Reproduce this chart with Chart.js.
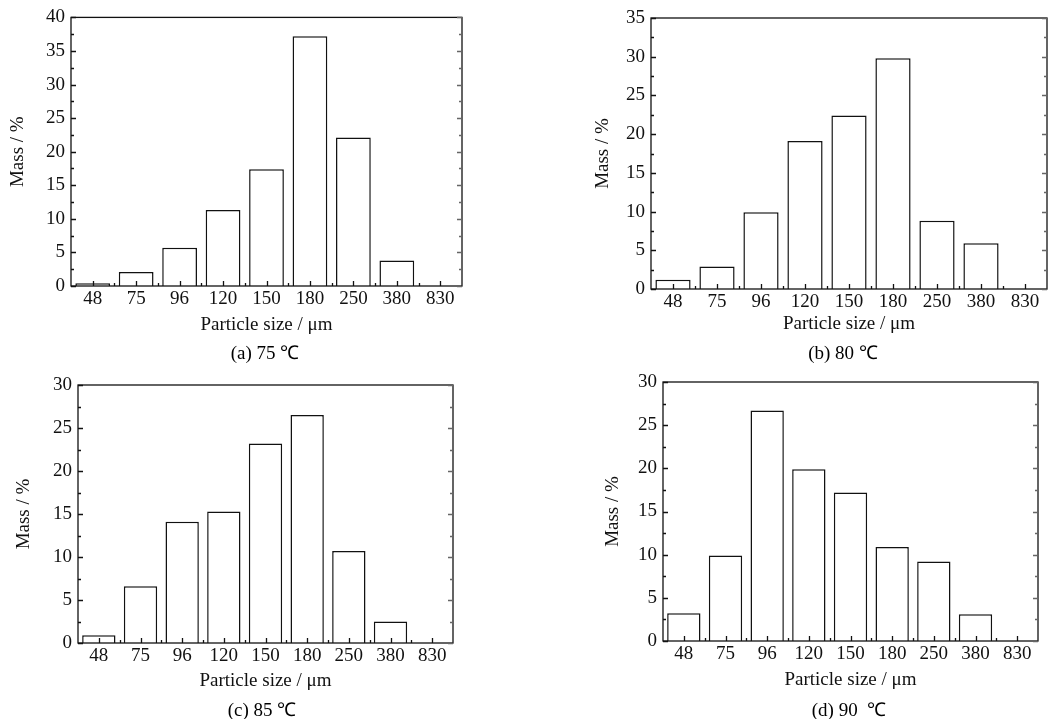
<!DOCTYPE html>
<html>
<head>
<meta charset="utf-8">
<script src="https://cdn.jsdelivr.net/npm/chart.js@4.4.1/dist/chart.umd.min.js"></script>
<style>
  body { margin: 0; background: #fff; }
  #page { position: relative; width: 1064px; height: 719px; overflow: hidden; }
  .panel { position: absolute; left: 0; top: 0; width: 1064px; height: 719px; }
  .caption { position: absolute; font-family: "Liberation Serif", "Times New Roman", serif; font-size: 19px; color: #000; transform: translate(-50%, -50%); white-space: pre; }
</style>
</head>
<body>
<div id="page">
  <div class="panel"><canvas id="c0"></canvas></div>
  <div class="panel"><canvas id="c1"></canvas></div>
  <div class="panel"><canvas id="c2"></canvas></div>
  <div class="panel"><canvas id="c3"></canvas></div>
</div>
<script>
// datos
const tamanos = ['48', '75', '96', '120', '150', '180', '250', '380', '830'];
const masa75 = [0.4, 2.1, 5.7, 11.3, 17.4, 37.2, 22.1, 3.8, 0];
const masa80 = [1.2, 2.9, 9.9, 19.1, 22.4, 29.8, 8.8, 5.9, 0];
const masa85 = [0.9, 6.6, 14.1, 15.3, 23.2, 26.5, 10.7, 2.5, 0];
const masa90 = [3.2, 9.9, 26.7, 19.9, 17.2, 10.9, 9.2, 3.1, 0];
const maximosY = [40, 35, 30, 30];
const pasoY = 5;
const leyendas = ['(a) 75 ℃', '(b) 80 ℃', '(c) 85 ℃', '(d) 90  ℃'];

// posicion de cada panel en la pagina (px)
const paneles = [
    { L: 71,  R: 462,  T: 16,  B: 286, tituloY: 18,  tituloX: 325, capX: 265, capY: 352 },
    { L: 651, R: 1047, T: 18,  B: 289, tituloY: 603, tituloX: 324, capX: 843, capY: 352 },
    { L: 78,  R: 453,  T: 385, B: 643, tituloY: 24,  tituloX: 681, capX: 262, capY: 709 },
    { L: 663, R: 1038, T: 382, B: 641, tituloY: 613, tituloX: 680, capX: 849, capY: 709 }
];

const fuente = { family: '"Liberation Serif", "Times New Roman", serif', size: 19 };
const medioLinea = 19 * 1.2 / 2;

// marco con marcas hacia dentro
const marcoPlugin = {
    id: 'marco',
    afterDatasetsDraw(chart) {
        const { ctx, chartArea: a, scales: { x, y } } = chart;
        ctx.save();
        ctx.strokeStyle = '#111';
        ctx.lineWidth = 1.3;
        ctx.strokeRect(a.left, a.top, a.right - a.left, a.bottom - a.top);
        ctx.beginPath();
        for (let v = y.min; v <= y.max; v += pasoY / 2) {
            const py = Math.round(y.getPixelForValue(v)) + 0.5;
            const len = (v % pasoY === 0) ? 5 : 3;
            ctx.moveTo(a.left, py); ctx.lineTo(a.left + len, py);
        }
        for (let i = 0; i < tamanos.length; i++) {
            const px = Math.round(x.getPixelForValue(i)) + 0.5;
            ctx.moveTo(px, a.bottom); ctx.lineTo(px, a.bottom - 5);
            if (i < tamanos.length - 1) {
                const pb = Math.round((x.getPixelForValue(i) + x.getPixelForValue(i + 1)) / 2) + 0.5;
                ctx.moveTo(pb, a.bottom); ctx.lineTo(pb, a.bottom - 3);
            }
        }
        ctx.stroke();
        ctx.strokeStyle = '#666';
        ctx.beginPath();
        for (let v = y.min; v <= y.max; v += pasoY / 2) {
            const py = Math.round(y.getPixelForValue(v)) + 0.5;
            const len = (v % pasoY === 0) ? 5 : 3;
            ctx.moveTo(a.right, py); ctx.lineTo(a.right - len, py);
        }
        ctx.stroke();
        ctx.restore();
    }
};

function dibujarPanel(idx, datos) {
    const p = paneles[idx];
    const anchoY = p.L - (p.tituloY - medioLinea);
    const altoX = p.tituloX + medioLinea - p.B;
    const ctx = document.getElementById('c' + idx).getContext('2d');
    new Chart(ctx, {
        type: 'bar',
        data: {
            labels: tamanos,
            datasets: [{
                label: 'Mass',
                data: datos,
                backgroundColor: '#ffffff',
                borderColor: '#111111',
                borderWidth: 1.5,
                barPercentage: 0.8,
                categoryPercentage: 1.0
            }]
        },
        options: {
            responsive: true,
            maintainAspectRatio: false,
            animation: false,
            layout: {
                padding: {
                    left: p.tituloY - medioLinea,
                    top: p.T,
                    right: 1064 - p.R,
                    bottom: 719 - p.B - altoX
                }
            },
            scales: {
                x: {
                    grid: { display: false, drawTicks: false },
                    border: { display: false },
                    ticks: { font: fuente, color: '#111', padding: 2 },
                    title: { display: true, text: 'Particle size / μm', font: fuente, color: '#111', padding: 0 },
                    afterFit(scale) { scale.height = altoX; }
                },
                y: {
                    min: 0,
                    max: maximosY[idx],
                    grid: { display: false, drawTicks: false },
                    border: { display: false },
                    ticks: { stepSize: pasoY, font: fuente, color: '#111', padding: 6 },
                    title: { display: true, text: 'Mass / %', font: fuente, color: '#111', padding: 0 },
                    afterFit(scale) { scale.width = anchoY; }
                }
            },
            plugins: {
                legend: { display: false },
                tooltip: { enabled: false }
            }
        },
        plugins: [marcoPlugin]
    });

    const cap = document.createElement('div');
    cap.className = 'caption';
    cap.style.left = p.capX + 'px';
    cap.style.top = p.capY + 'px';
    cap.textContent = leyendas[idx];
    document.getElementById('page').appendChild(cap);
}

dibujarPanel(0, masa75);
dibujarPanel(1, masa80);
dibujarPanel(2, masa85);
dibujarPanel(3, masa90);
</script>
</body>
</html>
